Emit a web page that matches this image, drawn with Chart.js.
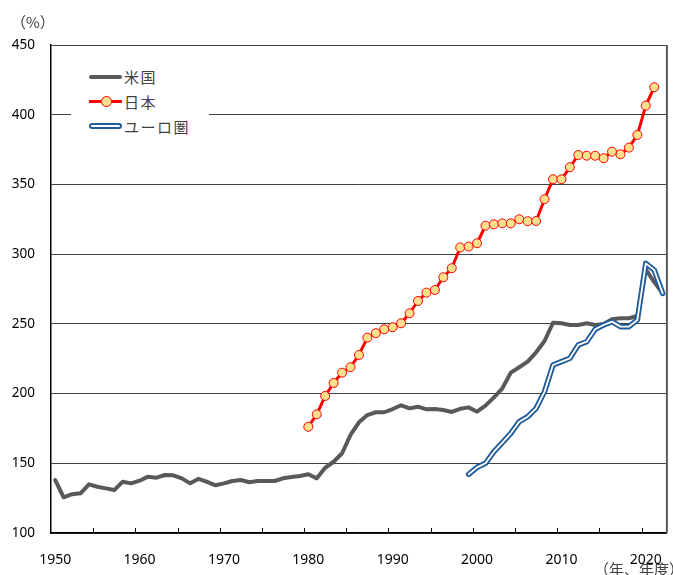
<!DOCTYPE html>
<html>
<head>
<meta charset="utf-8">
<script src="https://cdn.jsdelivr.net/npm/chart.js@4.4.0/dist/chart.umd.min.js"></script>
<style>
  body { margin: 0; background: #fff; }
  #wrap { position: relative; width: 673px; height: 575px; font-family: "Noto Sans CJK JP", "Noto Sans", sans-serif; }
  #c { position: absolute; left: 0; top: 0; }
  .note { position: absolute; color: #404040; font-size: 15px; white-space: nowrap; line-height: 1; }
  #legend { position: absolute; left: 71px; top: 62px; width: 138px; height: 78px; background: #fff; }
  .row { position: absolute; left: 0; height: 20px; width: 138px; }
  .row span { position: absolute; left: 53px; top: 1px; font-size: 15px; color: #404040; letter-spacing: 1.5px; line-height: 18px; }
  .sym { position: absolute; left: 18px; width: 33px; }
</style>
</head>
<body>
<div id="wrap">
  <canvas id="c" width="673" height="575"></canvas>
  <div class="note" style="left:11px; top:14px;">（%）</div>
  <div class="note" style="left:594px; top:561px;">（年、年度）</div>
  <div id="legend">
    <div class="row" style="top:5px;">
      <div class="sym" style="top:8px; height:4px; background:#595959; border-radius:2px;"></div>
      <span>米国</span>
    </div>
    <div class="row" style="top:30px;">
      <div class="sym" style="top:8px; height:3px; background:#ff0000;"></div>
      <div style="position:absolute; left:30px; top:4px; width:9px; height:9px; border-radius:50%; background:#fde08e; border:1px solid #ff0000; box-sizing:border-box; width:11px; height:11px;"></div>
      <span>日本</span>
    </div>
    <div class="row" style="top:55px;">
      <div class="sym" style="top:6px; height:6px; border:2px solid #1f5c99; border-radius:4px; box-sizing:border-box; background:#fff;"></div>
      <span>ユーロ圏</span>
    </div>
  </div>
</div>
<script>
// 債務残高（対GDP比, %）
const usStart = 1950;
const usDebt = [
  138.0, 125.6, 127.8, 128.5, 134.9, 133.2, 132.0, 130.8, 136.8, 135.6,
  137.5, 140.4, 139.7, 141.6, 141.4, 139.2, 135.6, 138.9, 136.6, 134.2,
  135.6, 137.3, 138.0, 136.4, 137.3, 137.3, 137.3, 139.2, 140.2, 140.9,
  142.1, 139.2, 146.8, 151.1, 157.2, 170.3, 179.4, 184.6, 186.6, 186.6,
  188.9, 191.6, 189.4, 190.6, 188.7, 188.9, 188.2, 186.8, 189.1, 190.1,
  187.0, 191.3, 197.3, 203.8, 215.0, 218.9, 222.9, 229.6, 237.7, 250.8,
  250.4, 249.2, 249.2, 250.4, 249.2, 249.9, 253.3, 254.0, 254.0, 255.6,
  289.0, 280.0, 272.0
];
const jpStart = 1980;
const jpDebt = [
  176.2, 185.1, 198.3, 207.6, 215.0, 218.9, 227.7, 240.1, 243.3, 246.1,
  247.6, 250.4, 257.6, 266.4, 272.4, 274.3, 283.4, 289.9, 304.8, 305.4,
  307.8, 320.4, 321.4, 322.1, 322.1, 325.0, 323.6, 323.8, 339.4, 353.7,
  353.7, 362.3, 371.1, 370.6, 370.6, 368.8, 373.5, 371.6, 376.4, 385.5,
  406.5, 419.7
];
const euStart = 1999;
const euDebt = [
  142.1, 147.1, 150.0, 158.3, 164.8, 171.5, 179.8, 183.4, 189.4, 201.4,
  220.5, 222.9, 225.3, 234.9, 237.2, 246.1, 249.2, 251.6, 248.0, 248.0,
  252.8, 293.4, 288.6, 271.9
];
const yearLabels = [1950, 1960, 1970, 1980, 1990, 2000, 2010, 2020];
const yTicks = [100, 150, 200, 250, 300, 350, 400, 450];

const toPoints = (start, vals) => vals.map((v, i) => ({ x: start + i, y: v }));

// inward tick marks every 5 years (between categories) + gray right border
const frame = {
  id: "frame",
  afterDatasetsDraw(chart) {
    const { ctx, chartArea, scales } = chart;
    const x = scales.x;
    ctx.save();
    ctx.strokeStyle = "#000";
    ctx.lineWidth = 1;
    for (let yr = 1954.5; yr < 2022.5; yr += 5) {
      const px = Math.round(x.getPixelForValue(yr)) + 0.5;
      ctx.beginPath();
      ctx.moveTo(px, chartArea.bottom);
      ctx.lineTo(px, chartArea.bottom - 5);
      ctx.stroke();
    }
    ctx.strokeStyle = "#595959";
    ctx.lineWidth = 2;
    ctx.beginPath();
    ctx.moveTo(chartArea.right, chartArea.top);
    ctx.lineTo(chartArea.right, chartArea.bottom);
    ctx.stroke();
    ctx.restore();
  }
};

const tickFont = { family: "'Noto Sans', sans-serif", size: 14 };

new Chart(document.getElementById("c"), {
  type: "line",
  data: {
    datasets: [
      {
        label: "日本",
        data: toPoints(jpStart, jpDebt),
        borderColor: "#ff0000",
        borderWidth: 3,
        pointRadius: 4.5,
        pointBackgroundColor: "#fde08e",
        pointBorderColor: "#ff0000",
        pointBorderWidth: 1,
        order: 1
      },
      {
        label: "ユーロ圏",
        data: toPoints(euStart, euDebt),
        borderColor: "#ffffff",
        borderWidth: 1.8,
        pointRadius: 0,
        order: 2
      },
      {
        label: "ユーロ圏_outer",
        data: toPoints(euStart, euDebt),
        borderColor: "#1f5c99",
        borderWidth: 5.5,
        pointRadius: 0,
        order: 3
      },
      {
        label: "米国",
        data: toPoints(usStart, usDebt),
        borderColor: "#595959",
        borderWidth: 4,
        pointRadius: 0,
        order: 4
      }
    ]
  },
  options: {
    responsive: false,
    devicePixelRatio: 1,
    animation: false,
    layout: { padding: { top: 45, right: 5, left: 0, bottom: 0 } },
    elements: { line: { tension: 0, borderCapStyle: "round", borderJoinStyle: "round" } },
    plugins: { legend: { display: false }, tooltip: { enabled: false } },
    scales: {
      x: {
        type: "linear",
        min: 1949.5,
        max: 2022.5,
        afterBuildTicks: (s) => { s.ticks = yearLabels.map((v) => ({ value: v })); },
        afterFit: (s) => { s.height = 42; },
        grid: { display: false },
        border: { display: true, color: "#000", width: 1.5 },
        ticks: { color: "#000", font: tickFont, padding: 11, maxRotation: 0, autoSkip: false, callback: (v) => String(v) }
      },
      y: {
        min: 100,
        max: 450,
        afterBuildTicks: (s) => { s.ticks = yTicks.map((v) => ({ value: v })); },
        afterFit: (s) => { s.width = 51; },
        grid: { color: "#404040", lineWidth: 1, drawTicks: false },
        border: { display: true, color: "#000", width: 1.5 },
        ticks: { color: "#000", font: { family: "'Noto Sans', sans-serif", size: 13.5 }, padding: 16 }
      }
    }
  },
  plugins: [frame]
});
</script>
</body>
</html>
